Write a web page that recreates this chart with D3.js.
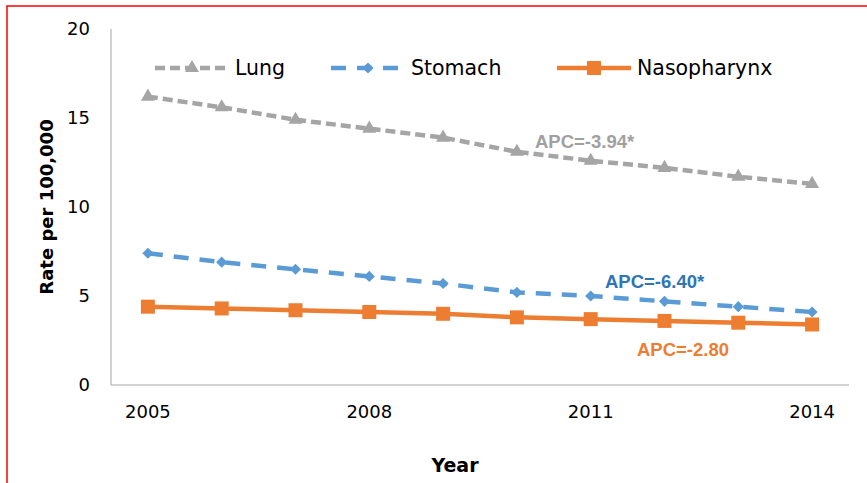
<!DOCTYPE html>
<html lang="en">
<head>
<meta charset="utf-8">
<script src="https://d3js.org/d3.v7.min.js"></script>
<style>
  body, html { margin: 0; padding: 0; background: #fff; }
  svg { display: block; font-family: 'DejaVu Sans', sans-serif; }
  .tick-label { font-size: 18px; fill: #000; }
  .legend-label { font-size: 20.5px; fill: #000; }
  .axis-title { font-family: 'DejaVu Sans', sans-serif; font-weight: bold; font-size: 18px; }
  .apc { font-family: 'Liberation Sans', sans-serif; font-weight: bold; font-size: 18.5px; }
</style>
</head>
<body>
<div id="chart"></div>
<script>
// data
const years = [2005, 2006, 2007, 2008, 2009, 2010, 2011, 2012, 2013, 2014];
const yearTicks = [2005, 2008, 2011, 2014];
const lung = [16.2, 15.6, 14.9, 14.4, 13.9, 13.1, 12.6, 12.2, 11.7, 11.3];
const stomach = [7.4, 6.9, 6.5, 6.1, 5.7, 5.2, 5.0, 4.7, 4.4, 4.1];
const nasopharynx = [4.4, 4.3, 4.2, 4.1, 4.0, 3.8, 3.7, 3.6, 3.5, 3.4];
const yTicks = [0, 5, 10, 15, 20];
const seriesNames = ["Lung", "Stomach", "Nasopharynx"];
const apcLabels = ["APC=-3.94*", "APC=-6.40*", "APC=-2.80"];

const width = 867, height = 483;
const margin = {left: 111, right: 18, top: 29, bottom: 98};

const svg = d3.select("#chart").append("svg")
    .attr("width", width)
    .attr("height", height);

// red frame (left and top edges only show)
svg.append("rect")
    .attr("x", 7).attr("y", 6)
    .attr("width", width + 20).attr("height", height + 20)
    .attr("fill", "none")
    .attr("stroke", "#ff0000")
    .attr("stroke-width", 1.5);

const x = d3.scalePoint()
    .domain(years)
    .range([margin.left, width - margin.right])
    .padding(0.5);

const y = d3.scaleLinear()
    .domain([0, 20])
    .range([height - margin.bottom, margin.top]);

// axes lines
svg.append("line")
    .attr("x1", margin.left).attr("x2", margin.left)
    .attr("y1", y(20)).attr("y2", y(0))
    .attr("stroke", "#a6a6a6").attr("stroke-width", 1);
svg.append("line")
    .attr("x1", margin.left).attr("x2", width - margin.right)
    .attr("y1", y(0)).attr("y2", y(0))
    .attr("stroke", "#a6a6a6").attr("stroke-width", 1);

svg.selectAll(".ytick")
  .data(yTicks)
  .join("text")
    .attr("class", "tick-label")
    .attr("x", 90)
    .attr("y", d => y(d))
    .attr("dy", "0.35em")
    .attr("text-anchor", "end")
    .text(d => d);

svg.selectAll(".xtick")
  .data(yearTicks)
  .join("text")
    .attr("class", "tick-label")
    .attr("x", d => x(d))
    .attr("y", 418)
    .attr("text-anchor", "middle")
    .text(d => d);

svg.append("text")
    .attr("class", "axis-title")
    .attr("transform", "translate(53,207) rotate(-90)")
    .attr("text-anchor", "middle")
    .text("Rate per 100,000");

svg.append("text")
    .attr("class", "axis-title")
    .attr("x", 455).attr("y", 472)
    .attr("text-anchor", "middle")
    .style("font-size", "19px")
    .text("Year");

// rot: extra rotation for the marker (square turned 45° = Excel diamond)
const series = [
  {name: seriesNames[0], values: lung, color: "#a5a5a5", dash: "10,5", marker: d3.symbolTriangle, size: 85, rot: 0, apc: apcLabels[0], apcColor: "#a0a0a0", apcX: 535, apcY: 148},
  {name: seriesNames[1], values: stomach, color: "#5b9bd5", dash: "15,11", marker: d3.symbolSquare, size: 62, rot: 45, apc: apcLabels[1], apcColor: "#2e75b6", apcX: 605, apcY: 288},
  {name: seriesNames[2], values: nasopharynx, color: "#ed7d31", dash: null, marker: d3.symbolSquare, size: 196, rot: 0, apc: apcLabels[2], apcColor: "#ed7d31", apcX: 637, apcY: 356}
];

const line = d3.line()
    .x((d, i) => x(years[i]))
    .y(d => y(d));

series.forEach(s => {
  svg.append("path")
      .datum(s.values)
      .attr("fill", "none")
      .attr("stroke", s.color)
      .attr("stroke-width", 4.5)
      .attr("stroke-dasharray", s.dash)
      .attr("d", line);

  svg.selectAll(null)
    .data(s.values)
    .join("path")
      .attr("transform", (d, i) => `translate(${x(years[i])},${y(d)}) rotate(${s.rot})`)
      .attr("d", d3.symbol().type(s.marker).size(s.size))
      .attr("fill", s.color);

  svg.append("text")
      .attr("class", "apc")
      .attr("x", s.apcX).attr("y", s.apcY)
      .attr("fill", s.apcColor)
      .text(s.apc);
});

// legend
const legendX = [155, 331, 557];
const legend = svg.append("g");
series.forEach((s, i) => {
  const lx = legendX[i], ly = 68;
  legend.append("line")
      .attr("x1", lx).attr("x2", lx + 74)
      .attr("y1", ly).attr("y2", ly)
      .attr("stroke", s.color)
      .attr("stroke-width", 4.5)
      .attr("stroke-dasharray", s.dash);
  legend.append("path")
      .attr("transform", `translate(${lx + 37},${ly}) rotate(${s.rot})`)
      .attr("d", d3.symbol().type(s.marker).size(s.size))
      .attr("fill", s.color);
  legend.append("text")
      .attr("class", "legend-label")
      .attr("x", lx + 80).attr("y", ly)
      .attr("dy", "0.35em")
      .text(s.name);
});
</script>
</body>
</html>
